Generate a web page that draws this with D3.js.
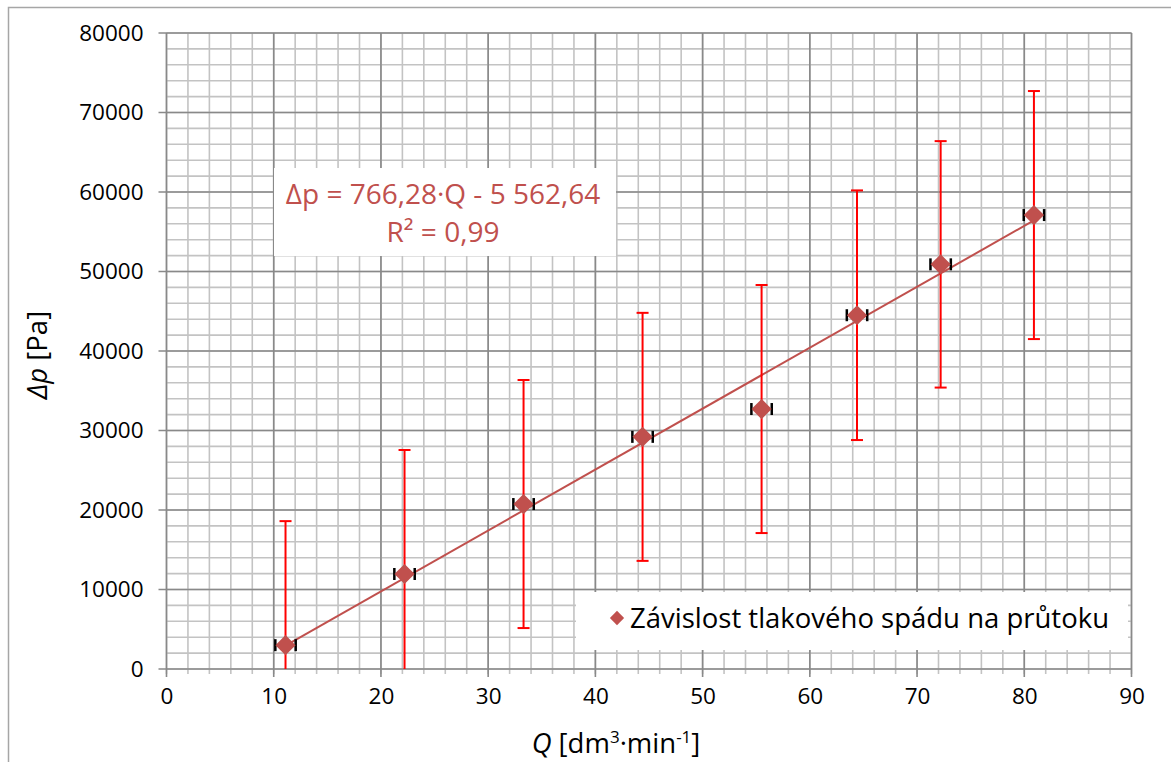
<!DOCTYPE html>
<html>
<head>
<meta charset="utf-8">
<script src="https://cdn.jsdelivr.net/npm/d3@7"></script>
<style>
  html, body { margin: 0; padding: 0; background: #fff; }
  svg { display: block; font-family: "Open Sans", "Noto Sans", sans-serif; }
</style>
</head>
<body>
<svg id="chart" width="1171" height="762"></svg>
<script>
// ---- Data ----
const qValues   = [11.1, 22.2, 33.3, 44.4, 55.5, 64.4, 72.2, 80.9];
const dpValues  = [3000, 11950, 20750, 29200, 32700, 44500, 50900, 57100];
const dpErrors  = [15600, 15600, 15600, 15600, 15600, 15700, 15500, 15600];
const qErrors   = [0.95, 0.95, 0.95, 0.95, 0.95, 0.95, 0.95, 0.95];
const xTicks    = [0, 10, 20, 30, 40, 50, 60, 70, 80, 90];
const yTicks    = [0, 10000, 20000, 30000, 40000, 50000, 60000, 70000, 80000];
const fitSlope = 766.28, fitIntercept = -5562.64;
const seriesName = "Závislost tlakového spádu na průtoku";
const eqLine1 = "Δp = 766,28·Q - 5 562,64";
const eqLine2 = "R² = 0,99";

// ---- Layout ----
const svg = d3.select("#chart");
const pLeft = 166.5, pRight = 1131.5, pTop = 33, pBottom = 669;
const x = d3.scaleLinear().domain([0, 90]).range([pLeft, pRight]);
const y = d3.scaleLinear().domain([0, 80000]).range([pBottom, pTop]);
const markerColor = "#c0504d";

// outer chart border
svg.append("rect").attr("x", 8.5).attr("y", 7.5).attr("width", 1200).attr("height", 800)
  .attr("fill", "#fff").attr("stroke", "#a6a6a6").attr("stroke-width", 1.5);

// minor grid
const xMinor = d3.range(0, 90.001, 2);
const yMinor = d3.range(0, 80001, 2000);
const g = svg.append("g");
g.selectAll(".xminor").data(xMinor).join("line")
  .attr("x1", d => x(d)).attr("x2", d => x(d)).attr("y1", pTop).attr("y2", pBottom + 5)
  .attr("stroke", "#c3c3c3").attr("stroke-width", 1.6);
g.selectAll(".yminor").data(yMinor).join("line")
  .attr("y1", d => y(d)).attr("y2", d => y(d)).attr("x1", pLeft).attr("x2", pRight)
  .attr("stroke", "#c3c3c3").attr("stroke-width", 1.6);
// major grid
g.selectAll(".xmajor").data(xTicks).join("line")
  .attr("x1", d => x(d)).attr("x2", d => x(d)).attr("y1", pTop).attr("y2", pBottom + 8)
  .attr("stroke", "#898989").attr("stroke-width", 1.6);
g.selectAll(".ymajor").data(yTicks).join("line")
  .attr("y1", d => y(d)).attr("y2", d => y(d)).attr("x1", pLeft - 8).attr("x2", pRight)
  .attr("stroke", "#898989").attr("stroke-width", 1.6);

// axes (labels)
const xAxis = d3.axisBottom(x).tickValues(xTicks).tickSize(0).tickPadding(19);
const yAxis = d3.axisLeft(y).tickValues(yTicks).tickSize(0).tickPadding(23).tickFormat(d3.format("d"));
const gx = svg.append("g").attr("transform", `translate(0,${pBottom})`).call(xAxis);
const gy = svg.append("g").attr("transform", `translate(${pLeft},0)`).call(yAxis);
[gx, gy].forEach(a => {
  a.select(".domain").remove();
  a.selectAll("text").attr("font-family", '"Open Sans", sans-serif').attr("font-size", 22.5).attr("fill", "#000");
});

// regression line
svg.append("line")
  .attr("x1", x(d3.min(qValues))).attr("y1", y(fitSlope * d3.min(qValues) + fitIntercept))
  .attr("x2", x(d3.max(qValues))).attr("y2", y(fitSlope * d3.max(qValues) + fitIntercept))
  .attr("stroke", markerColor).attr("stroke-width", 2);

// error bars (Y, red)
const pts = qValues.map((q, i) => ({ q, dp: dpValues[i], e: dpErrors[i], eq: qErrors[i] }));
const eb = svg.append("g");
pts.forEach(p => {
  const hi = p.dp + p.e, lo = p.dp - p.e;
  const hiC = Math.min(hi, 80000), loC = Math.max(lo, 0);
  eb.append("line").attr("x1", x(p.q)).attr("x2", x(p.q)).attr("y1", y(hiC)).attr("y2", y(loC))
    .attr("stroke", "#ff0000").attr("stroke-width", 2);
  if (hi <= 80000) eb.append("line").attr("x1", x(p.q) - 6).attr("x2", x(p.q) + 6).attr("y1", y(hi)).attr("y2", y(hi))
    .attr("stroke", "#ff0000").attr("stroke-width", 2);
  if (lo >= 0) eb.append("line").attr("x1", x(p.q) - 6).attr("x2", x(p.q) + 6).attr("y1", y(lo)).attr("y2", y(lo))
    .attr("stroke", "#ff0000").attr("stroke-width", 2);
  // X error bars (black)
  eb.append("line").attr("x1", x(p.q - p.eq)).attr("x2", x(p.q + p.eq)).attr("y1", y(p.dp)).attr("y2", y(p.dp))
    .attr("stroke", "#000").attr("stroke-width", 2);
  [p.q - p.eq, p.q + p.eq].forEach(v => eb.append("line")
    .attr("x1", x(v)).attr("x2", x(v)).attr("y1", y(p.dp) - 6).attr("y2", y(p.dp) + 6)
    .attr("stroke", "#000").attr("stroke-width", 2.5));
});

// markers
const diamond = d3.symbol().type(d3.symbolDiamond2).size(260);
svg.selectAll(".pt").data(pts).join("path")
  .attr("d", diamond)
  .attr("transform", d => `translate(${x(d.q)},${y(d.dp)})`)
  .attr("fill", markerColor);

// equation box
svg.append("rect").attr("x", 274).attr("y", 168).attr("width", 342).attr("height", 88).attr("fill", "#fff");
svg.append("text").attr("x", 443).attr("y", 204).attr("text-anchor", "middle")
  .attr("font-size", 28).attr("fill", markerColor).text(eqLine1);
svg.append("text").attr("x", 443).attr("y", 242).attr("text-anchor", "middle")
  .attr("font-size", 28).attr("fill", markerColor).text(eqLine2);

// legend
svg.append("rect").attr("x", 576).attr("y", 592).attr("width", 552).attr("height", 58).attr("fill", "#fff");
svg.append("path").attr("d", d3.symbol().type(d3.symbolDiamond2).size(130))
  .attr("transform", "translate(617,618)").attr("fill", markerColor);
svg.append("text").attr("x", 630).attr("y", 628).attr("font-size", 27.5).attr("fill", "#000").text(seriesName);

// axis titles
const xt = svg.append("text").attr("x", 616).attr("y", 753).attr("text-anchor", "middle")
  .attr("font-size", 27.5).attr("fill", "#000");
xt.append("tspan").attr("font-style", "italic").text("Q");
xt.append("tspan").text(" [dm");
xt.append("tspan").attr("font-size", 17).attr("dy", -10).text("3");
xt.append("tspan").attr("dy", 10).text("·min");
xt.append("tspan").attr("font-size", 17).attr("dy", -10).text("-1");
xt.append("tspan").attr("dy", 10).text("]");

const yt = svg.append("text").attr("transform", "translate(47,355) rotate(-90)").attr("text-anchor", "middle")
  .attr("font-size", 27.5).attr("fill", "#000");
yt.append("tspan").attr("font-style", "italic").text("Δp");
yt.append("tspan").text(" [Pa]");
</script>
</body>
</html>
